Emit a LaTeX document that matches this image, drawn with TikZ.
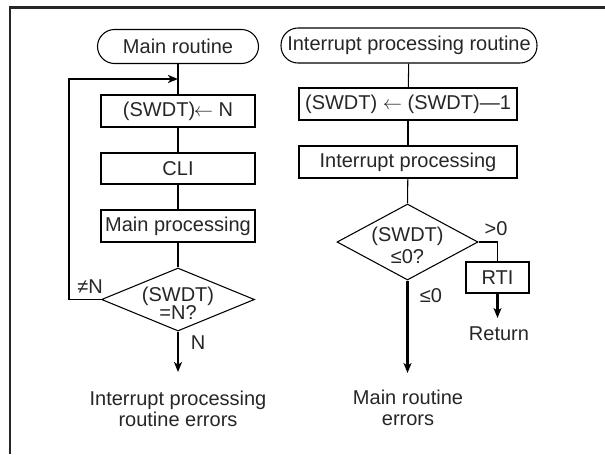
\documentclass[tikz,border=0pt]{standalone}
\usepackage{fontspec}
\setmainfont{Liberation Sans}
\usetikzlibrary{shapes.geometric,arrows.meta}
\begin{document}
\begin{tikzpicture}[x=0.75pt,y=-0.75pt,
  every node/.style={font=\fontsize{15}{18}\selectfont, text=black!85},
  term/.style={draw, rounded corners=12.8pt, inner sep=0pt, line width=0.8pt},
  box/.style={draw, inner sep=0pt, line width=0.8pt},
  dia/.style={draw, diamond, inner sep=0pt, line width=0.8pt},
  thin/.style={line width=0.8pt},
  thickarrow/.style={line width=1.6pt, -{Stealth[length=7.5pt,width=6pt,inset=2pt]}},
  lbl/.style={inner sep=0pt}
]
\useasboundingbox (0,0) rectangle (605,454);
\draw[line width=1.6pt, black!85] (10,454) -- (10,7.5) -- (605,7.5);

% left column
\node[term, minimum width=161*0.75pt, minimum height=34*0.75pt] (mr) at (178,46.5) {Main routine};
\node[box, minimum width=154*0.75pt, minimum height=32*0.75pt] (b1) at (178,111) {(SWDT)\kern-1pt$\leftarrow$ N};
\node[box, minimum width=154*0.75pt, minimum height=31*0.75pt] (b2) at (178,168.5) {CLI};
\node[box, minimum width=154*0.75pt, minimum height=32*0.75pt] (b3) at (178,226) {Main processing};
\node[dia, minimum width=153*0.75pt, minimum height=63*0.75pt] (d1) at (178,299.5) {};
\node[lbl, align=center] (d1t) at (178,303) {(SWDT)\\[-4.5pt]=N?};
\coordinate (e1) at (178,372);
\coordinate (lpa) at (69,299.5);
\coordinate (lpb) at (69,79);
\coordinate (lpc) at (178,79);
\node[lbl] (ne) at (90,287) {≠N};
\node[lbl] (nn) at (198,343) {N};
\node[lbl, align=center] (err1) at (178,409) {Interrupt processing\\[-2pt]routine errors};

\draw[thin] (mr) -- (b1);
\draw[thin] (b1) -- (b2);
\draw[thin] (b2) -- (b3);
\draw[thin] (b3) -- (d1.north);
\draw[thickarrow] (d1.south) -- (e1);
\draw[thin] (d1.west) -- (lpa) -- (lpb);
\draw[thickarrow, shorten <=-0.4pt] (lpb) -- (lpc);

% right column
\node[term, minimum width=256*0.75pt, minimum height=35*0.75pt] (ir) at (409,45.5) {Interrupt processing routine};
\node[box, minimum width=218*0.75pt, minimum height=32*0.75pt] (r1) at (408,104) {(SWDT) $\leftarrow$ (SWDT)—1};
\node[box, minimum width=218*0.75pt, minimum height=32*0.75pt] (r2) at (408,162) {Interrupt processing};
\node[dia, minimum width=141*0.75pt, minimum height=76*0.75pt] (d2) at (407.5,242) {};
\node[lbl, align=center] (d2t) at (407.5,245) {(SWDT)\\[-1.5pt]≤0?};
\node[box, minimum width=63*0.75pt, minimum height=31*0.75pt] (rti) at (497.5,277.5) {RTI};
\coordinate (rc) at (497.5,242);
\coordinate (e2) at (407.5,373);
\coordinate (e3) at (497.5,318);
\node[lbl] (gt) at (496,229) {>0};
\node[lbl] (le) at (431,296) {≤0};
\node[lbl] (ret) at (499,334) {Return};
\node[lbl, align=center] (err2) at (408,408) {Main routine\\[-2pt]errors};

\draw[thin] (ir) -- (r1);
\draw[thin] (r1) -- (r2);
\draw[thin] (r2) -- (d2.north);
\draw[thin] (d2.east) -- (rc) -- (rti.north);
\draw[thickarrow] (rti.south) -- (e3);
\draw[thickarrow] (d2.south) -- (e2);
\end{tikzpicture}
\end{document}
